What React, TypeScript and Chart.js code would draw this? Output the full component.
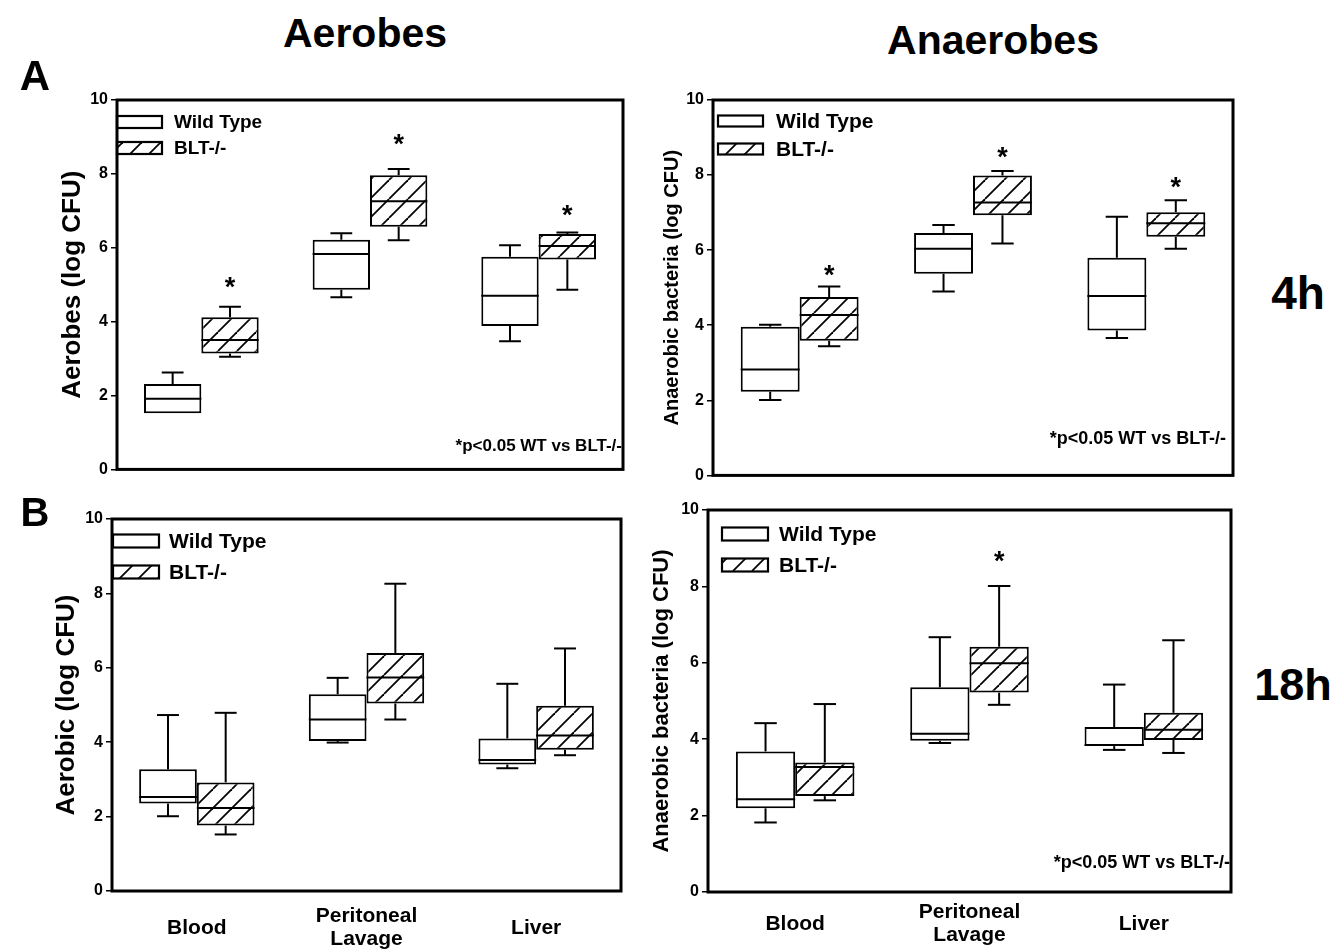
import React, { useEffect, useRef } from 'react';
import { Chart, registerables } from 'chart.js';

Chart.register(...registerables);

// ---------- data ----------
const categories: (string | string[])[] = ['Blood', ['Peritoneal', 'Lavage'], 'Liver'];
const seriesNames = ['Wild Type', 'BLT-/-'];
const yTickValues = [0, 2, 4, 6, 8, 10];
const noteText = '*p<0.05 WT vs BLT-/-';

// five-number summaries per category: [min, q1, median, q3, max] (log CFU)
const aerobes4hWT = [[1.52, 1.52, 1.91, 2.31, 2.62], [4.66, 4.86, 5.83, 6.22, 6.39], [3.47, 3.88, 4.7, 5.76, 6.07]];
const aerobes4hBLT = [[3.05, 3.14, 3.5, 4.12, 4.4], [6.2, 6.57, 7.26, 7.96, 8.13], [4.86, 5.68, 6.05, 6.37, 6.41]];
const aerobes4hStars = [5.07, 8.92, 7.0];

const anaerobes4hWT = [[2.01, 2.23, 2.82, 3.96, 4.01], [4.9, 5.37, 6.04, 6.46, 6.67], [3.66, 3.86, 4.78, 5.8, 6.89]];
const anaerobes4hBLT = [[3.44, 3.59, 4.27, 4.75, 5.03], [6.18, 6.93, 7.27, 7.99, 8.11], [6.04, 6.36, 6.72, 7.01, 7.33]];
const anaerobes4hStars = [5.46, 8.59, 7.8];

const aerobes18hWT = [[2.01, 2.35, 2.53, 3.27, 4.73], [3.99, 4.03, 4.61, 5.29, 5.73], [3.3, 3.4, 3.52, 4.1, 5.57]];
const aerobes18hBLT = [[1.52, 1.76, 2.23, 2.92, 4.79], [4.61, 5.04, 5.74, 6.4, 8.26], [3.65, 3.8, 4.18, 4.98, 6.52]];
const aerobes18hStars: (number | null)[] = [null, null, null];

const anaerobes18hWT = [[1.82, 2.19, 2.43, 3.68, 4.42], [3.9, 3.96, 4.14, 5.36, 6.67], [3.72, 3.82, 3.85, 4.32, 5.43]];
const anaerobes18hBLT = [[2.4, 2.51, 3.27, 3.39, 4.92], [4.9, 5.22, 5.99, 6.42, 8.01], [3.64, 3.98, 4.25, 4.69, 6.59]];
const anaerobes18hStars: (number | null)[] = [null, 8.78, null];

// ---------- styling ----------
const FONT = "'Liberation Sans', Arial, Helvetica, sans-serif";
const Y_W = 70;
const PAD_T = 15;
const PAD_R = 15;

type Panel = {
  wt: number[][];
  blt: number[][];
  stars: (number | null)[];
  yTitle: string;
  frame: { l: number; t: number; r: number; b: number };
  xAxisH: number;
  xPad: number;
  showX: boolean;
  titleSize: number;
  titlePad: number;
  legend: { x: number; w: number; h: number; y1: number; y2: number; tx: number; font: number };
  note: { font: number; dy: number; dx: number } | null;
};

const panels: Panel[] = [
  {
    wt: aerobes4hWT, blt: aerobes4hBLT, stars: aerobes4hStars, yTitle: 'Aerobes (log CFU)',
    frame: { l: 117, t: 100, r: 623, b: 472 }, xAxisH: 10, xPad: 0, showX: false, titleSize: 26, titlePad: 13,
    legend: { x: 0, w: 45, h: 12, y1: 22, y2: 48, tx: 57, font: 19 },
    note: { font: 17, dy: 23, dx: 1 },
  },
  {
    wt: anaerobes4hWT, blt: anaerobes4hBLT, stars: anaerobes4hStars, yTitle: 'Anaerobic bacteria (log CFU)',
    frame: { l: 713, t: 100, r: 1233, b: 478 }, xAxisH: 10, xPad: 0, showX: false, titleSize: 20, titlePad: 19,
    legend: { x: 5, w: 45, h: 11, y1: 21, y2: 49, tx: 63, font: 21 },
    note: { font: 18, dy: 36, dx: 7 },
  },
  {
    wt: aerobes18hWT, blt: aerobes18hBLT, stars: aerobes18hStars, yTitle: 'Aerobic (log CFU)',
    frame: { l: 112, t: 519, r: 621, b: 891 }, xAxisH: 60, xPad: 25, showX: true, titleSize: 26, titlePad: 12,
    legend: { x: 1, w: 46, h: 13, y1: 22, y2: 53, tx: 57, font: 21 },
    note: null,
  },
  {
    wt: anaerobes18hWT, blt: anaerobes18hBLT, stars: anaerobes18hStars, yTitle: 'Anaerobic bacteria (log CFU)',
    frame: { l: 708, t: 510, r: 1231, b: 892 }, xAxisH: 59, xPad: 20, showX: true, titleSize: 22, titlePad: 13,
    legend: { x: 14, w: 46, h: 13, y1: 24, y2: 55, tx: 71, font: 21 },
    note: { font: 18, dy: 29, dx: 1 },
  },
];

function makeHatch(ctx: CanvasRenderingContext2D): CanvasPattern | string {
  const s = 19;
  const c = document.createElement('canvas');
  c.width = s;
  c.height = s;
  const g = c.getContext('2d');
  if (!g) return '#fff';
  g.fillStyle = '#fff';
  g.fillRect(0, 0, s, s);
  g.strokeStyle = '#000';
  g.lineWidth = 1.8;
  for (const o of [-s, 0, s]) {
    g.beginPath();
    g.moveTo(o, s);
    g.lineTo(o + s, 0);
    g.stroke();
  }
  return ctx.createPattern(c, 'repeat') || '#fff';
}

function line(ctx: CanvasRenderingContext2D, x1: number, y1: number, x2: number, y2: number) {
  ctx.beginPath();
  ctx.moveTo(x1, y1);
  ctx.lineTo(x2, y2);
  ctx.stroke();
}

function boxPlugin(cfg: Panel, hatch: CanvasPattern | string) {
  return {
    id: 'boxExtras',
    afterDatasetsDraw(chart: any) {
      const { ctx, chartArea } = chart;
      const y = chart.scales.y;
      ctx.save();
      ctx.beginPath();
      ctx.rect(chartArea.left, chartArea.top, chartArea.right - chartArea.left, chartArea.bottom - chartArea.top);
      ctx.clip();
      ctx.strokeStyle = '#000';
      [cfg.wt, cfg.blt].forEach((stats, di) => {
        const meta = chart.getDatasetMeta(di);
        meta.data.forEach((bar: any, i: number) => {
          const [mn, q1, md, q3, mx] = stats[i];
          const { x: cx, width } = bar.getProps(['x', 'width'], true);
          const half = width / 2;
          const cap = width * 0.19;
          ctx.lineWidth = 2;
          const ym = y.getPixelForValue(md);
          line(ctx, cx - half, ym, cx + half, ym);
          if (mx > q3) {
            const yt = y.getPixelForValue(mx);
            line(ctx, cx, y.getPixelForValue(q3), cx, yt);
            line(ctx, cx - cap, yt, cx + cap, yt);
          }
          if (mn < q1) {
            const yb = y.getPixelForValue(mn);
            line(ctx, cx, y.getPixelForValue(q1), cx, yb);
            line(ctx, cx - cap, yb, cx + cap, yb);
          }
          if (di === 1 && cfg.stars[i] != null) {
            ctx.fillStyle = '#000';
            ctx.font = `bold 27px ${FONT}`;
            ctx.textAlign = 'center';
            ctx.textBaseline = 'alphabetic';
            const m = ctx.measureText('*');
            const py = y.getPixelForValue(cfg.stars[i] as number);
            ctx.fillText('*', cx, py + (m.actualBoundingBoxAscent - m.actualBoundingBoxDescent) / 2);
          }
        });
      });
      ctx.restore();
    },
    afterDraw(chart: any) {
      const { ctx, chartArea } = chart;
      const { left, top, right, bottom } = chartArea;
      ctx.save();
      // legend
      const lg = cfg.legend;
      const rows = [lg.y1, lg.y2];
      rows.forEach((ry, i) => {
        const bx = left + lg.x;
        const by = top + ry - lg.h / 2;
        ctx.fillStyle = i === 0 ? '#fff' : hatch;
        ctx.fillRect(bx, by, lg.w, lg.h);
        ctx.strokeStyle = '#000';
        ctx.lineWidth = 2.2;
        ctx.strokeRect(bx, by, lg.w, lg.h);
        ctx.fillStyle = '#000';
        ctx.font = `bold ${lg.font}px ${FONT}`;
        ctx.textAlign = 'left';
        ctx.textBaseline = 'middle';
        ctx.fillText(seriesNames[i], left + lg.tx, top + ry + 1);
      });
      // note
      if (cfg.note) {
        ctx.fillStyle = '#000';
        ctx.font = `bold ${cfg.note.font}px ${FONT}`;
        ctx.textAlign = 'right';
        ctx.textBaseline = 'middle';
        ctx.fillText(noteText, right - cfg.note.dx, bottom - cfg.note.dy);
      }
      // frame
      ctx.strokeStyle = '#000';
      ctx.lineWidth = 3;
      ctx.strokeRect(left, top, right - left, bottom - top);
      ctx.restore();
    },
  };
}

function PanelChart({ cfg }: { cfg: Panel }) {
  const ref = useRef<HTMLCanvasElement>(null);
  const { frame } = cfg;
  const left = frame.l - Y_W;
  const top = frame.t - PAD_T;
  const width = frame.r - frame.l + Y_W + PAD_R;
  const height = frame.b - frame.t + PAD_T + cfg.xAxisH;

  useEffect(() => {
    const canvas = ref.current;
    if (!canvas) return;
    const c2d = canvas.getContext('2d') as CanvasRenderingContext2D;
    const hatch = makeHatch(c2d);
    const chart = new Chart(canvas, {
      type: 'bar',
      data: {
        labels: categories as any,
        datasets: [
          {
            label: seriesNames[0],
            data: cfg.wt.map((s) => [s[1], s[3]]) as any,
            backgroundColor: '#fff',
            borderColor: '#000',
            borderWidth: 2,
            borderSkipped: false,
          },
          {
            label: seriesNames[1],
            data: cfg.blt.map((s) => [s[1], s[3]]) as any,
            backgroundColor: hatch as any,
            borderColor: '#000',
            borderWidth: 2,
            borderSkipped: false,
          },
        ],
      },
      options: {
        animation: false,
        responsive: false,
        events: [],
        layout: { padding: { top: PAD_T, right: PAD_R, left: 0, bottom: 0 } },
        datasets: { bar: { categoryPercentage: 0.68, barPercentage: 1 } },
        plugins: { legend: { display: false }, tooltip: { enabled: false } },
        scales: {
          x: {
            grid: { display: false, drawTicks: false },
            border: { display: false },
            ticks: {
              display: cfg.showX,
              color: '#000',
              autoSkip: false,
              maxRotation: 0,
              crossAlign: 'center',
              padding: cfg.xPad,
              font: { family: FONT, weight: 'bold', size: 21, lineHeight: 1.12 },
            },
            afterFit: (s: any) => {
              s.height = cfg.xAxisH;
            },
          },
          y: {
            min: 0,
            max: 10,
            afterBuildTicks: (s: any) => {
              s.ticks = yTickValues.map((v) => ({ value: v }));
            },
            grid: { drawOnChartArea: false, color: '#000', tickLength: 6, lineWidth: 1.5 },
            border: { display: false },
            ticks: { color: '#000', padding: 3, font: { family: FONT, weight: 'bold', size: 16 } },
            title: {
              display: true,
              text: cfg.yTitle,
              color: '#000',
              font: { family: FONT, weight: 'bold', size: cfg.titleSize, lineHeight: 1 },
              padding: { top: cfg.titlePad, bottom: 0 },
            },
            afterFit: (s: any) => {
              s.width = Y_W;
            },
          },
        },
      } as any,
      plugins: [boxPlugin(cfg, hatch)],
    });
    return () => chart.destroy();
  }, []);

  return (
    <canvas
      ref={ref}
      width={width}
      height={height}
      style={{ position: 'absolute', left, top, width, height }}
    />
  );
}

function Label({ text, x, y, size }: { text: string; x: number; y: number; size: number }) {
  return (
    <div
      style={{
        position: 'absolute',
        left: x,
        top: y,
        transform: 'translate(-50%, -50%)',
        fontFamily: FONT,
        fontWeight: 'bold',
        fontSize: size,
        lineHeight: 1,
        whiteSpace: 'nowrap',
        color: '#000',
      }}
    >
      {text}
    </div>
  );
}

export default function App() {
  return (
    <div
      style={{
        position: 'absolute',
        left: 0,
        top: 0,
        width: 1333,
        height: 951,
        background: '#fff',
        overflow: 'hidden',
      }}
    >
      {panels.map((p, i) => (
        <PanelChart key={i} cfg={p} />
      ))}
      <Label text="Aerobes" x={365} y={33} size={41} />
      <Label text="Anaerobes" x={993} y={40} size={41} />
      <Label text="A" x={35} y={76} size={42} />
      <Label text="B" x={35} y={512} size={40} />
      <Label text="4h" x={1298} y={293} size={46} />
      <Label text="18h" x={1293} y={684} size={45} />
    </div>
  );
}
